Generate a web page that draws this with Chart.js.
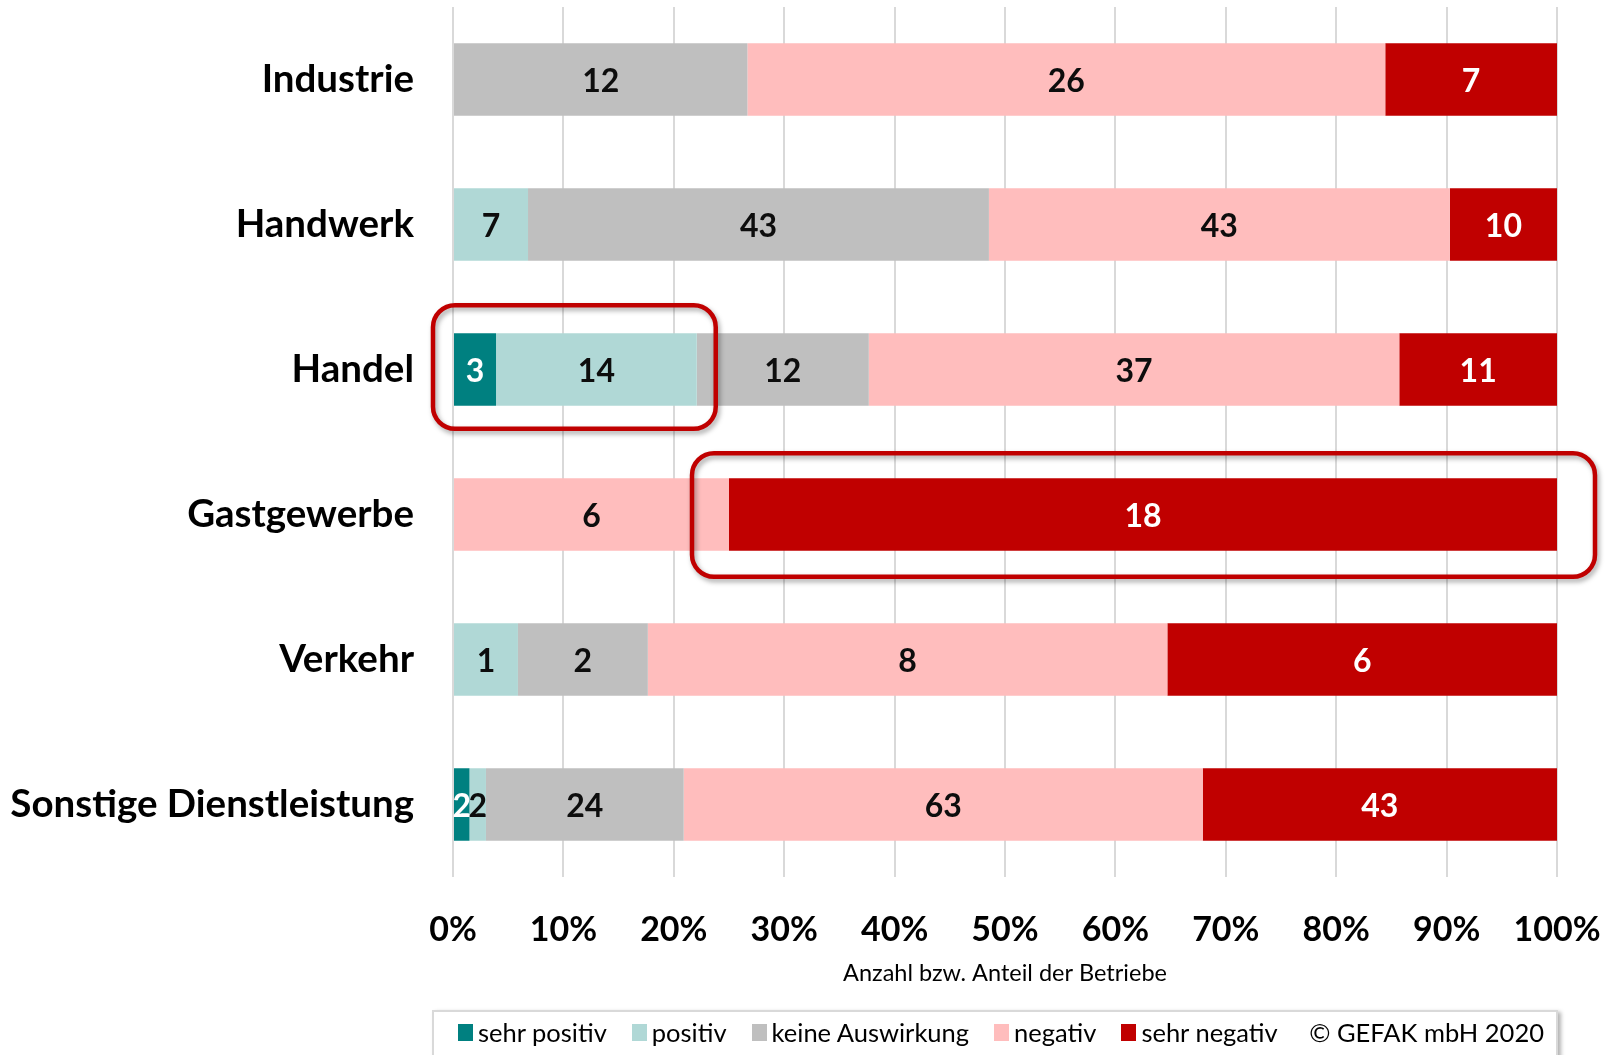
<!DOCTYPE html>
<html lang="de">
<head>
    <meta charset="UTF-8">
    <title>Auswirkungen nach Branchen</title>
    <style>
        html, body {
            margin: 0;
            padding: 0;
            background: #fff;
        }

        .wrap {
            position: relative;
            width: 1608px;
            height: 1055px;
            overflow: hidden;
        }

        #legend {
            position: absolute;
            left: 432px;
            top: 1010px;
            width: 1126px;
            height: 60px;
            border: 2px solid #d9d9d9;
            box-shadow: 3px 2px 4px rgba(0, 0, 0, 0.3);
            display: flex;
            align-items: flex-start;
            padding-top: 5px;
            box-sizing: border-box;
            font-family: Lato, sans-serif;
            font-size: 25.5px;
            color: #000;
            background: #fff;
        }

        #legend .item {
            display: flex;
            align-items: center;
            margin-right: 25px;
        }

        #legend .item:first-child {
            margin-left: 24px;
        }

        #legend .box {
            width: 15px;
            height: 17px;
            margin-right: 5px;
        }

        #legend .copy {
            margin-left: auto;
            margin-right: 12px;
        }
    </style>
</head>
<body>
    <div class="wrap">
        <canvas id="chart" width="1608" height="1055"></canvas>
        <div id="legend"></div>
    </div>

    <script src="https://cdn.jsdelivr.net/npm/chart.js"></script>
    <script>
        // Anzahl der Betriebe je Branche und Bewertung
        const categories = ['Industrie', 'Handwerk', 'Handel', 'Gastgewerbe', 'Verkehr', 'Sonstige Dienstleistung'];
        const seriesNames = ['sehr positiv', 'positiv', 'keine Auswirkung', 'negativ', 'sehr negativ'];
        const sehrPositiv = [0, 0, 3, 0, 0, 2];
        const positiv = [0, 7, 14, 0, 1, 2];
        const keineAuswirkung = [12, 43, 12, 0, 2, 24];
        const negativ = [26, 43, 37, 6, 8, 63];
        const sehrNegativ = [7, 10, 11, 18, 6, 43];
        const xTicks = [0, 10, 20, 30, 40, 50, 60, 70, 80, 90, 100];

        const counts = [sehrPositiv, positiv, keineAuswirkung, negativ, sehrNegativ];
        const colors = ['#008080', '#b0d8d6', '#bfbfbf', '#ffbdbd', '#c00000'];
        const labelColors = ['#fff', '#0d0d0d', '#0d0d0d', '#0d0d0d', '#fff'];

        const totals = categories.map((c, j) => counts.reduce((s, arr) => s + arr[j], 0));

        // Werte in den Balken
        const valueLabels = {
            id: 'valueLabels',
            afterDatasetsDraw(chart) {
                const ctx = chart.ctx;
                ctx.save();
                ctx.font = 'bold 32px Lato';
                ctx.textAlign = 'center';
                ctx.textBaseline = 'middle';
                chart.data.datasets.forEach((ds, i) => {
                    chart.getDatasetMeta(i).data.forEach((bar, j) => {
                        const n = counts[i][j];
                        if (!n) return;
                        ctx.fillStyle = labelColors[i];
                        ctx.fillText(n, (bar.x + bar.base) / 2, bar.y + 2);
                    });
                });
                ctx.restore();
            }
        };

        function roundBox(ctx, l, r, t, b) {
            ctx.save();
            ctx.shadowColor = 'rgba(0, 0, 0, 0.35)';
            ctx.shadowBlur = 5;
            ctx.shadowOffsetX = 2;
            ctx.shadowOffsetY = 3;
            ctx.strokeStyle = '#c00000';
            ctx.lineWidth = 4.5;
            ctx.beginPath();
            ctx.roundRect(l, t, r - l, b - t, 22);
            ctx.stroke();
            ctx.restore();
        }

        // rote Markierungen (Handel positiv, Gastgewerbe sehr negativ)
        const highlight = {
            id: 'highlight',
            afterDatasetsDraw(chart) {
                const ctx = chart.ctx;
                const h = chart.getDatasetMeta(1).data[2];
                const x0 = chart.scales.x.getPixelForValue(0);
                roundBox(ctx, x0 - 20, h.x + 19, h.y - h.height / 2 - 28, h.y + h.height / 2 + 23);
                const g = chart.getDatasetMeta(4).data[3];
                roundBox(ctx, g.base - 37, g.x + 38, g.y - g.height / 2 - 25, g.y + g.height / 2 + 26);
            }
        };

        // keine automatische Randzugabe der Achsen
        function noPadding(scale) {
            scale.paddingTop = 0;
            scale.paddingBottom = 0;
            scale.paddingLeft = 0;
            scale.paddingRight = 0;
        }

        const ctx = document.getElementById('chart').getContext('2d');
        const chart = new Chart(ctx, {
            type: 'bar',
            data: {
                labels: categories,
                datasets: seriesNames.map((name, i) => ({
                    label: name,
                    data: counts[i].map((v, j) => v / totals[j] * 100),
                    backgroundColor: colors[i],
                    borderWidth: 0,
                    barPercentage: 0.5,
                    categoryPercentage: 1
                }))
            },
            options: {
                indexAxis: 'y',
                responsive: false,
                animation: false,
                layout: {
                    padding: { left: 0, right: 51, top: 7, bottom: 45 }
                },
                plugins: {
                    legend: { display: false },
                    tooltip: { enabled: false }
                },
                scales: {
                    x: {
                        stacked: true,
                        min: 0,
                        max: 100,
                        afterBuildTicks(scale) {
                            scale.ticks = xTicks.map(v => ({ value: v }));
                        },
                        afterFit(scale) {
                            scale.height = 133;
                            noPadding(scale);
                        },
                        grid: { color: '#d9d9d9', lineWidth: 2, drawTicks: false },
                        border: { display: false },
                        ticks: {
                            callback: v => v + '%',
                            color: '#000',
                            padding: 33,
                            maxRotation: 0,
                            font: { family: 'Lato', size: 34, weight: 'bold' }
                        },
                        title: {
                            display: true,
                            text: 'Anzahl bzw. Anteil der Betriebe',
                            color: '#000',
                            padding: { top: 0, bottom: 22 },
                            font: { family: 'Lato', size: 23.5 }
                        }
                    },
                    y: {
                        stacked: true,
                        afterFit(scale) {
                            scale.width = 453;
                            noPadding(scale);
                        },
                        grid: { display: false },
                        border: { display: false },
                        ticks: {
                            color: '#000',
                            padding: 31,
                            font: { family: 'Lato', size: 38.5, weight: 'bold' }
                        }
                    }
                }
            },
            plugins: [highlight, valueLabels]
        });

        // Legende mit Copyright
        const legend = document.getElementById('legend');
        seriesNames.forEach((name, i) => {
            const item = document.createElement('div');
            item.className = 'item';
            item.innerHTML = '<span class="box" style="background:' + colors[i] + '"></span>' + name;
            legend.appendChild(item);
        });
        const copy = document.createElement('div');
        copy.className = 'copy';
        copy.textContent = '© GEFAK mbH 2020';
        legend.appendChild(copy);
    </script>
</body>
</html>
